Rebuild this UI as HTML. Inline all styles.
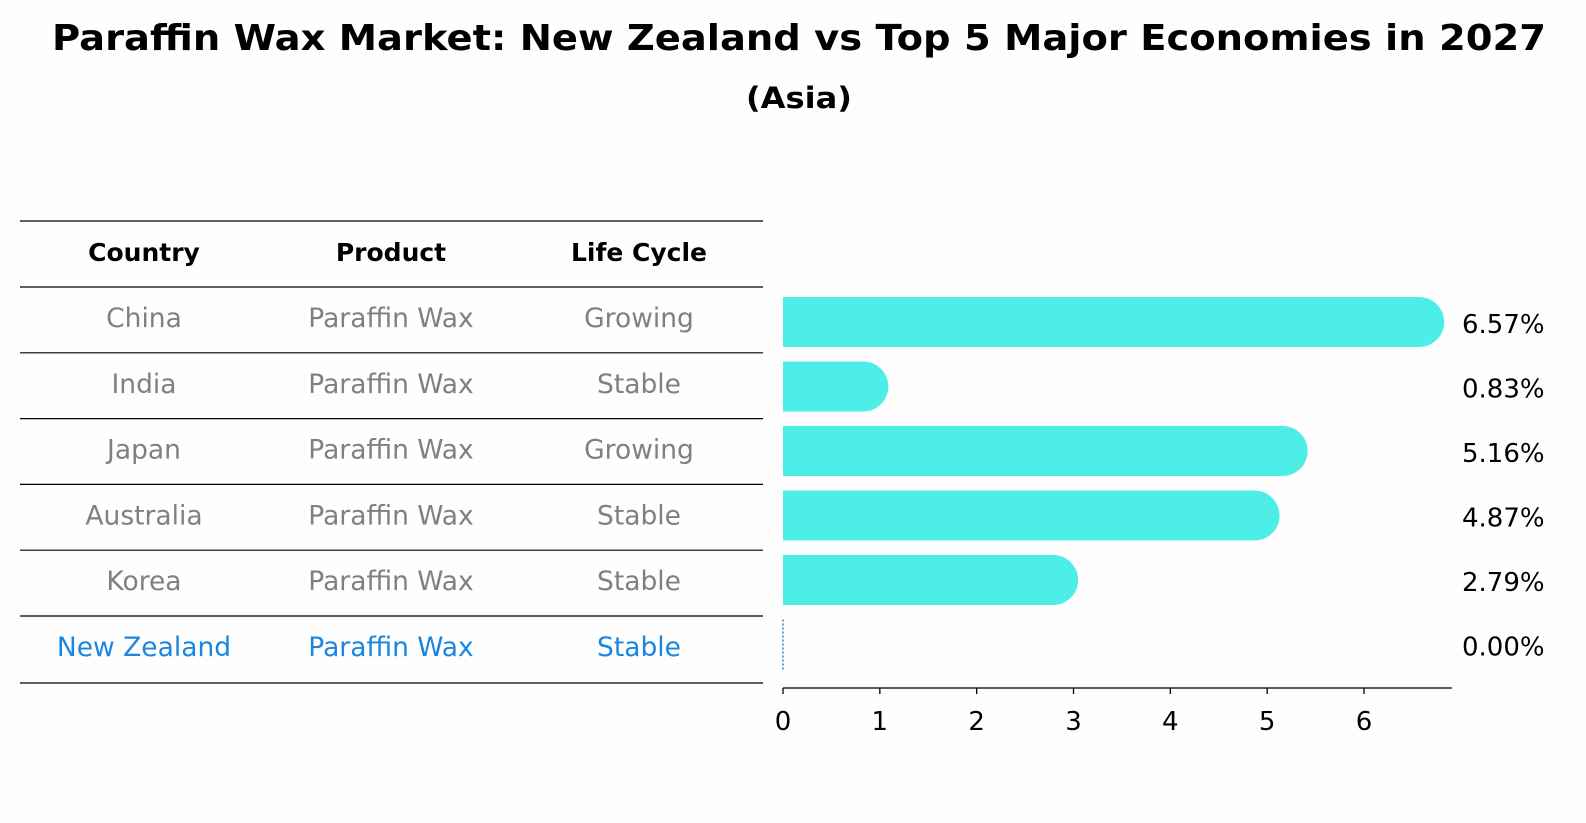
<!DOCTYPE html>
<html><head><meta charset="utf-8"><style>
body{margin:0;background:#fefefe;font-family:"Liberation Sans","DejaVu Sans",sans-serif;}
svg{display:block}
</style></head><body>
<svg id="chart" width="1586" height="823" xmlns="http://www.w3.org/2000/svg" font-family="DejaVu Sans, Liberation Sans, sans-serif">
<rect width="1586" height="823" fill="#fefefe"/>
<text x="799" y="50" text-anchor="middle" font-size="36" font-weight="bold" textLength="1494" lengthAdjust="spacingAndGlyphs">Paraffin Wax Market: New Zealand vs Top 5 Major Economies in 2027</text>
<text x="799" y="108" text-anchor="middle" font-size="29" font-weight="bold" textLength="106" lengthAdjust="spacingAndGlyphs">(Asia)</text>
<g id="table"></g>
<g id="bars"></g>
</svg>
<script>
const countries=["China","India","Japan","Australia","Korea","New Zealand"];
const products=["Paraffin Wax","Paraffin Wax","Paraffin Wax","Paraffin Wax","Paraffin Wax","Paraffin Wax"];
const lifeCycles=["Growing","Stable","Growing","Stable","Stable","Stable"];
const growth=[6.57,0.83,5.16,4.87,2.79,0.00];
const ticks=[0,1,2,3,4,5,6];
const NS="http://www.w3.org/2000/svg";
function mk(tag,attrs,parent,text){const e=document.createElementNS(NS,tag);for(const k in attrs)e.setAttribute(k,attrs[k]);if(text!==undefined)e.textContent=text;parent.appendChild(e);return e;}
const tbl=document.getElementById('table');
const rowY=i=>287+i*65.8;
const colX=[144,391,639];
let l=mk('line',{x1:20,x2:763,y1:221,y2:221,stroke:'#000','stroke-width':1.2},tbl);


["Country","Product","Life Cycle"].forEach((h,j)=>{
 const t=mk('text',{x:colX[j],y:261,'text-anchor':'middle','font-size':25,'font-weight':'bold'},tbl,h);
 
 
});
countries.forEach((c,i)=>{
 const y0=rowY(i);
 const ln=mk('line',{x1:20,x2:763,y1:y0,y2:y0,stroke:'#000','stroke-width':1.2},tbl);
 
 
 const col=c==="New Zealand"?'#1a86e0':'#808080';
 [c,products[i],lifeCycles[i]].forEach((v,j)=>{
  const t=mk('text',{x:colX[j],y:y0+40,'text-anchor':'middle','font-size':26.5,fill:col},tbl,v);
  
  
 });
});
l=mk('line',{x1:20,x2:763,y1:683,y2:683,stroke:'#000','stroke-width':1.2},tbl);



const g=document.getElementById('bars');
const x0=783,scale=(1364-783)/6;
const xs=v=>x0+v*scale;
const yc=i=>322+i*64.5;
const bh=50,r=25;
growth.forEach((v,i)=>{
 const y=yc(i)-bh/2;
 if(v>0){
  const w=xs(v)-x0;
  const p=mk('path',{d:`M${x0},${y} H${x0+w} A${r},${r} 0 0 1 ${x0+w},${y+bh} H${x0} Z`,fill:'#4eeee8'},g);
  
  
 } else {
  const p=mk('line',{x1:x0,x2:x0,y1:y,y2:y+bh,stroke:'#1a86e0','stroke-width':1.5,'stroke-dasharray':'2,2'},g);
  
  
 }
 const t=mk('text',{x:1462,y:yc(i)+11,'font-size':26},g,v.toFixed(2)+'%');
 
 
});
const ax=mk('line',{x1:x0,x2:1452,y1:688,y2:688,stroke:'#000','stroke-width':1.3},g);


ticks.forEach(tk=>{
 const tl=mk('line',{x1:xs(tk),x2:xs(tk),y1:688,y2:694,stroke:'#000','stroke-width':1.3},g);
 
 
 const t=mk('text',{x:xs(tk),y:730,'text-anchor':'middle','font-size':26},g,String(tk));
 
 
});
</script>
</body></html>
